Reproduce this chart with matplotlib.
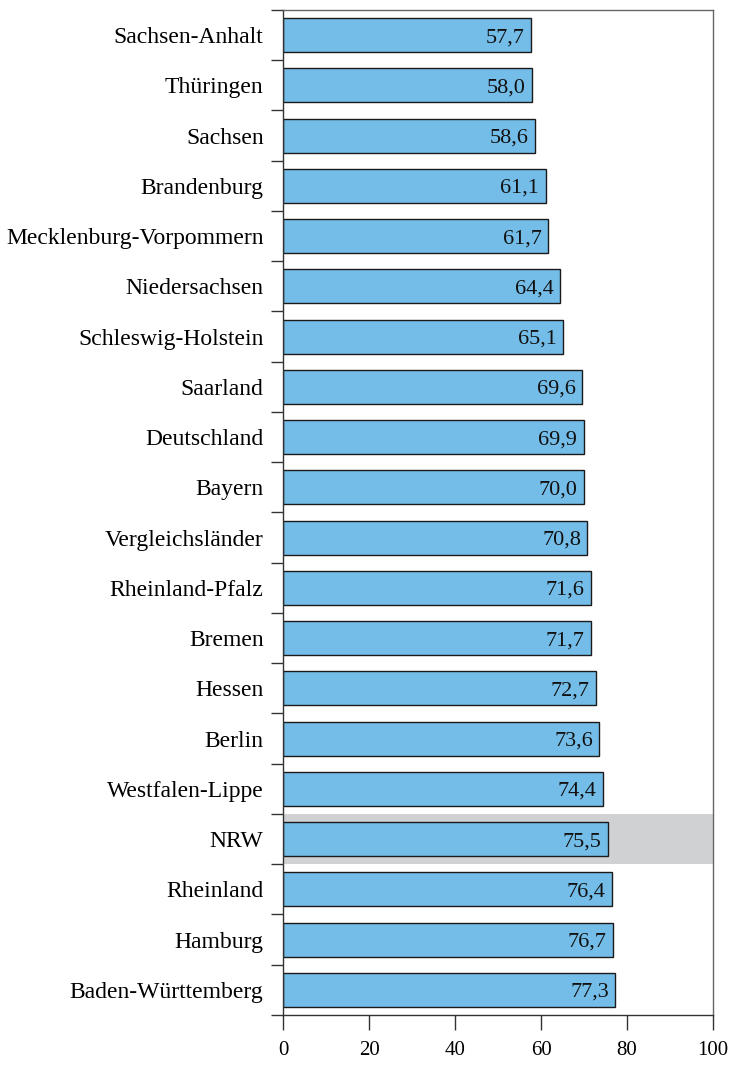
import matplotlib
matplotlib.use("Agg")
import matplotlib.pyplot as plt
import numpy as np

categories = ["Sachsen-Anhalt", "Thüringen", "Sachsen", "Brandenburg",
              "Mecklenburg-Vorpommern", "Niedersachsen", "Schleswig-Holstein",
              "Saarland", "Deutschland", "Bayern", "Vergleichsländer",
              "Rheinland-Pfalz", "Bremen", "Hessen", "Berlin",
              "Westfalen-Lippe", "NRW", "Rheinland", "Hamburg",
              "Baden-Württemberg"]
values = [57.7, 58.0, 58.6, 61.1, 61.7, 64.4, 65.1, 69.6, 69.9, 70.0, 70.8,
          71.6, 71.7, 72.7, 73.6, 74.4, 75.5, 76.4, 76.7, 77.3]
highlight = "NRW"
xticks = [0, 20, 40, 60, 80, 100]

plt.rcParams['font.family'] = ['Liberation Serif', 'DejaVu Serif']

fig = plt.figure(figsize=(7.33, 10.66), dpi=100)
ax = fig.add_axes([283/733, 1 - 1015/1066, (713-283)/733, (1015-10)/1066])

n = len(categories)
y = np.arange(n)
ax.set_ylim(n - 0.5, -0.5)
ax.set_xlim(0, 100)

hi = categories.index(highlight)
ax.axhspan(hi - 0.5, hi + 0.5, color="#d0d1d3", zorder=0, lw=0)

ax.barh(y, values, height=0.68, color="#74bde8", edgecolor="#1a1a1a",
        linewidth=1.0, zorder=2)
for yi, v in zip(y, values):
    ax.text(v - 1.5, yi + 0.05, f"{v:.1f}".replace(".", ","), ha="right",
            va="center", fontsize=16, color="#111111", zorder=3)

ax.set_yticks(y)
ax.set_yticklabels(categories, fontsize=17)
ax.tick_params(axis="y", which="major", length=0, pad=14)
ax.set_yticks(np.arange(-0.5, n, 1.0), minor=True)
ax.tick_params(axis="y", which="minor", length=9, width=1.0, color="#333333")

ax.set_xticks(xticks)
ax.set_xticklabels([str(t) for t in xticks], fontsize=15)
ax.tick_params(axis="x", length=11, width=1.0, color="#333333", pad=8)

for s in ["top", "right"]:
    ax.spines[s].set_color("#666666")
    ax.spines[s].set_linewidth(1.0)
for s in ["left", "bottom"]:
    ax.spines[s].set_color("#333333")
    ax.spines[s].set_linewidth(1.0)

fig.savefig("out.png", dpi=100)
